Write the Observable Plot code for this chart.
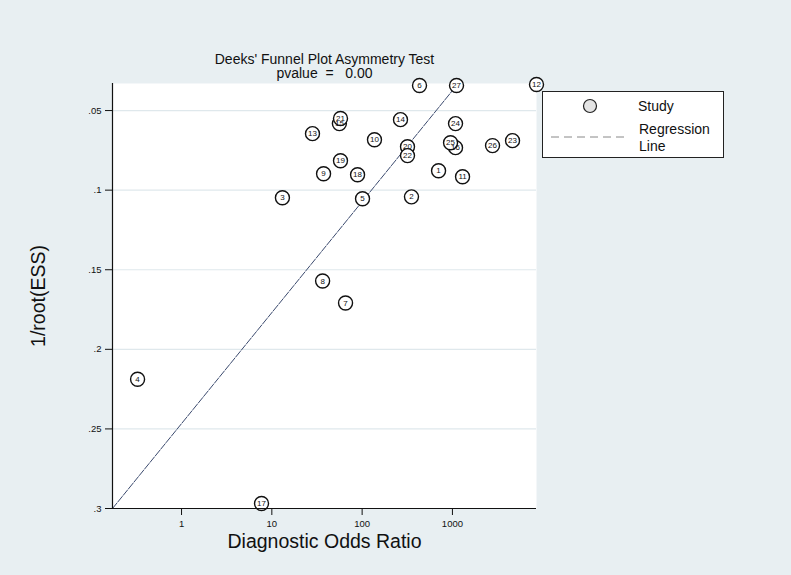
<!DOCTYPE html>
<html>
<head>
<meta charset="utf-8">
<script src="https://cdn.jsdelivr.net/npm/d3@7"></script>
<script src="https://cdn.jsdelivr.net/npm/@observablehq/plot@0.6"></script>
<style>
  html, body { margin: 0; padding: 0; background: #e8eff2; }
  #wrap { position: relative; width: 791px; height: 575px; font-family: "Liberation Sans", Arial, sans-serif; }
  #legend { position: absolute; left: 542px; top: 91px; width: 182px; height: 67px; background: #fff; border: 1px solid #222; box-sizing: border-box; }
</style>
</head>
<body>
<div id="wrap"></div>
<script>
// Study data: id, diagnostic odds ratio, 1/root(ESS)
const studyIds = [1, 2, 3, 4, 5, 6, 7, 8, 9, 10, 11, 12, 13, 14, 15, 16, 17, 18, 19, 20, 21, 22, 23, 24, 25, 26, 27];
const studyDOR = [702, 352, 13.1, 0.326, 101, 432, 65.5, 36.5, 37.4, 137, 1294, 8530, 28.2, 266, 56, 1082, 7.69, 89, 57.6, 318, 57.6, 318, 4630, 1082, 953, 2780, 1110];
const studyInvESS = [0.0878, 0.1042, 0.1048, 0.2188, 0.1054, 0.0343, 0.1709, 0.1571, 0.0897, 0.0683, 0.0916, 0.0336, 0.0645, 0.0557, 0.0582, 0.0733, 0.2969, 0.0903, 0.0815, 0.0727, 0.0550, 0.0783, 0.0689, 0.0582, 0.0702, 0.0720, 0.0343];

// Regression line endpoints
const regDOR = [0.172, 1110];
const regInvESS = [0.3, 0.0343];

const xTicks = [1, 10, 100, 1000];
const yTicks = [0.05, 0.1, 0.15, 0.2, 0.25, 0.3];
const titleLines = ["Deeks' Funnel Plot Asymmetry Test", "pvalue\u00a0\u00a0=\u00a0\u00a0\u00a00.00"];
const xLabel = "Diagnostic Odds Ratio";
const yLabel = "1/root(ESS)";

const studies = studyIds.map((id, i) => ({id, dor: studyDOR[i], v: studyInvESS[i]}));
const reg = regDOR.map((d, i) => ({dor: d, v: regInvESS[i]}));

const font = "Liberation Sans, Arial, sans-serif";

const chart = Plot.plot({
  width: 791,
  height: 575,
  marginLeft: 112,
  marginRight: 255,
  marginTop: 83,
  marginBottom: 67,
  style: {background: "#e8eff2", fontFamily: font, color: "#111"},
  x: {type: "log", domain: [0.172, 8530]},
  y: {domain: [0.033, 0.3], reverse: true},
  marks: [
    Plot.frame({fill: "#fff", stroke: null}),
    Plot.gridY(yTicks, {stroke: "#dfe8ec", strokeOpacity: 1, strokeWidth: 1.2}),
    Plot.line(reg, {x: "dor", y: "v", stroke: "#3b4a6e", strokeWidth: 1, strokeDasharray: "7,1.5"}),
    Plot.dot(studies, {x: "dor", y: "v", r: 7, fill: "#fff", stroke: "#111", strokeWidth: 1.4}),
    Plot.text(studies, {x: "dor", y: "v", text: d => String(d.id), fontSize: 8, fill: "#111"}),
    Plot.axisY({ticks: yTicks, tickSize: 7, tickPadding: 4, fontSize: 9.5, label: null,
      tickFormat: d => String(d).replace(/^0/, "")}),
    Plot.axisX({ticks: xTicks, tickSize: 7, tickPadding: 5, fontSize: 9.5, label: null,
      tickFormat: d => String(d)}),
    Plot.ruleX([0.172], {stroke: "#111", strokeWidth: 1.2}),
    Plot.ruleY([0.3], {stroke: "#111", strokeWidth: 1.2}),
    Plot.text([titleLines[0]], {frameAnchor: "top", lineAnchor: "middle", dy: -24, dx: 0, fontSize: 14, fill: "#111"}),
    Plot.text([titleLines[1]], {frameAnchor: "top", lineAnchor: "middle", dy: -10, dx: 0, fontSize: 14, fill: "#111"}),
    Plot.text([xLabel], {frameAnchor: "bottom", lineAnchor: "middle", dy: 33, dx: 0, fontSize: 19.5, fill: "#111"}),
    Plot.text([yLabel], {frameAnchor: "left", textAnchor: "middle", lineAnchor: "middle", dx: -74, rotate: -90, fontSize: 19.5, fill: "#111"})
  ]
});

const wrap = document.getElementById("wrap");
wrap.appendChild(chart);

const legend = document.createElement("div");
legend.id = "legend";
legend.innerHTML = `
<svg width="182" height="67" style="position:absolute;left:-1px;top:-1px;font-family:${font}">
  <circle cx="48" cy="15" r="6.5" fill="#e4e4e4" stroke="#222" stroke-width="1.2"></circle>
  <text x="96" y="20" font-size="14" fill="#111">Study</text>
  <line x1="9" y1="46" x2="85" y2="46" stroke="#888" stroke-width="1" stroke-dasharray="8,5"></line>
  <text x="97" y="43" font-size="14" fill="#111">Regression</text>
  <text x="97" y="60" font-size="14" fill="#111">Line</text>
</svg>`;
wrap.appendChild(legend);
</script>
</body>
</html>
